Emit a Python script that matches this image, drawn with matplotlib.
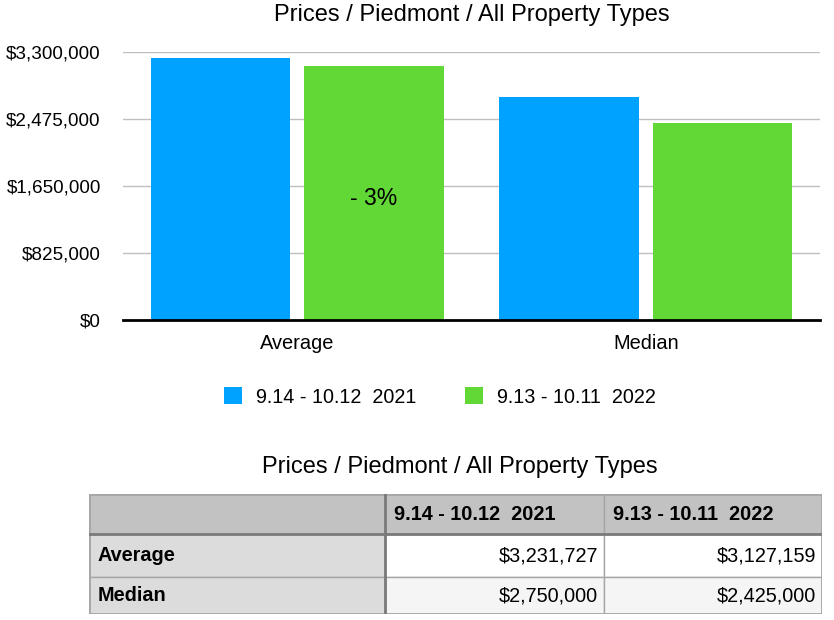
import numpy as np
import matplotlib.pyplot as plt
from matplotlib.ticker import FuncFormatter

plt.rcParams['font.family'] = ['Liberation Sans', 'DejaVu Sans']

title = "Prices / Piedmont / All Property Types"
categories = ["Average", "Median"]
series_names = ["9.14 - 10.12  2021", "9.13 - 10.11  2022"]
prices_2021 = [3231727, 2750000]
prices_2022 = [3127159, 2425000]
y_ticks = [0, 825000, 1650000, 2475000, 3300000]
change_label = "- 3%"
colors = ["#00A2FF", "#61D836"]

fig = plt.figure(figsize=(8.34, 6.2), dpi=100)
W, H = 834, 620

ax = fig.add_axes([123 / W, 1 - 320 / H, 697 / W, 268 / H])
x = np.arange(len(categories))
w = 0.4
ax.bar(x - 0.22, prices_2021, w, color=colors[0], label=series_names[0], zorder=3)
ax.bar(x + 0.22, prices_2022, w, color=colors[1], label=series_names[1], zorder=3)
ax.text(x[0] + 0.22, 1650000 - 150000, change_label, ha="center", va="center", fontsize=16.5, zorder=4)

ax.set_xlim(-0.5, 1.5)
ax.set_ylim(0, 3300000)
ax.set_yticks(y_ticks)
ax.yaxis.set_major_formatter(FuncFormatter(lambda v, p: "${:,.0f}".format(v)))
ax.set_xticks(x)
ax.set_xticklabels(categories)
ax.tick_params(length=0, labelsize=14.4)
ax.tick_params(axis="y", pad=16, labelsize=13.6)
ax.tick_params(axis="x", pad=10)
ax.yaxis.grid(True, color="#bfbfbf", linewidth=1, zorder=0)
for s in ["top", "right", "left"]:
    ax.spines[s].set_visible(False)
ax.spines["bottom"].set_linewidth(2)
ax.spines["bottom"].set_zorder(5)
fig.text(472 / W, 1 - 15 / H, title, ha="center", va="center", fontsize=17)

ax.legend(loc="center", bbox_to_anchor=(440 / W, 1 - 397 / H), bbox_transform=fig.transFigure,
          ncol=2, frameon=False, fontsize=14.2, handlelength=0.9, handleheight=0.95,
          columnspacing=2.5, handletextpad=0.7)

fig.text(460 / W, 1 - 467 / H, title, ha="center", va="center", fontsize=17)

# table
cell_text = [[series_names[0], series_names[1]]]
for i, c in enumerate(categories):
    cell_text.append(["${:,.0f}".format(prices_2021[i]), "${:,.0f}".format(prices_2022[i])])
rows = [""] + categories

tax = fig.add_axes([89 / W, 1 - 614 / H, 733 / W, 120 / H])
tax.axis("off")
col_w = [296, 219, 218]
row_h = [40, 43, 37]
edges_x = np.concatenate([[0], np.cumsum(col_w)])
edges_y = np.concatenate([[0], np.cumsum(row_h)])
tax.set_xlim(0, edges_x[-1])
tax.set_ylim(edges_y[-1], 0)
table_font = ['Liberation Sans Narrow', 'Liberation Sans', 'DejaVu Sans']
for r in range(3):
    for c in range(3):
        if r == 0:
            fc = "#c2c2c2"
        elif c == 0:
            fc = "#dcdcdc"
        elif r == 1:
            fc = "#ffffff"
        else:
            fc = "#f5f5f5"
        tax.add_patch(plt.Rectangle((edges_x[c], edges_y[r]), col_w[c], row_h[r],
                                    facecolor=fc, edgecolor="#a6a6a6", linewidth=1))
        yc = edges_y[r] + row_h[r] / 2
        if c == 0:
            if r > 0:
                tax.text(edges_x[c] + 9, yc, rows[r], ha="left", va="center",
                         fontsize=14.3, fontweight="bold", family=table_font)
        elif r == 0:
            tax.text(edges_x[c] + 9, yc, cell_text[0][c - 1], ha="left", va="center",
                     fontsize=14.3, fontweight="bold", family=table_font)
        else:
            tax.text(edges_x[c + 1] - 6, yc, cell_text[r][c - 1], ha="right", va="center",
                     fontsize=14.3, family=table_font)
tax.plot([0, edges_x[-1]], [edges_y[1], edges_y[1]], color="#7a7a7a", linewidth=2)
tax.plot([edges_x[1], edges_x[1]], [0, edges_y[-1]], color="#7a7a7a", linewidth=2)
tax.add_patch(plt.Rectangle((0, 0), edges_x[-1], edges_y[-1], fill=False,
                            edgecolor="#a6a6a6", linewidth=2))

fig.savefig("out.png", dpi=100)
